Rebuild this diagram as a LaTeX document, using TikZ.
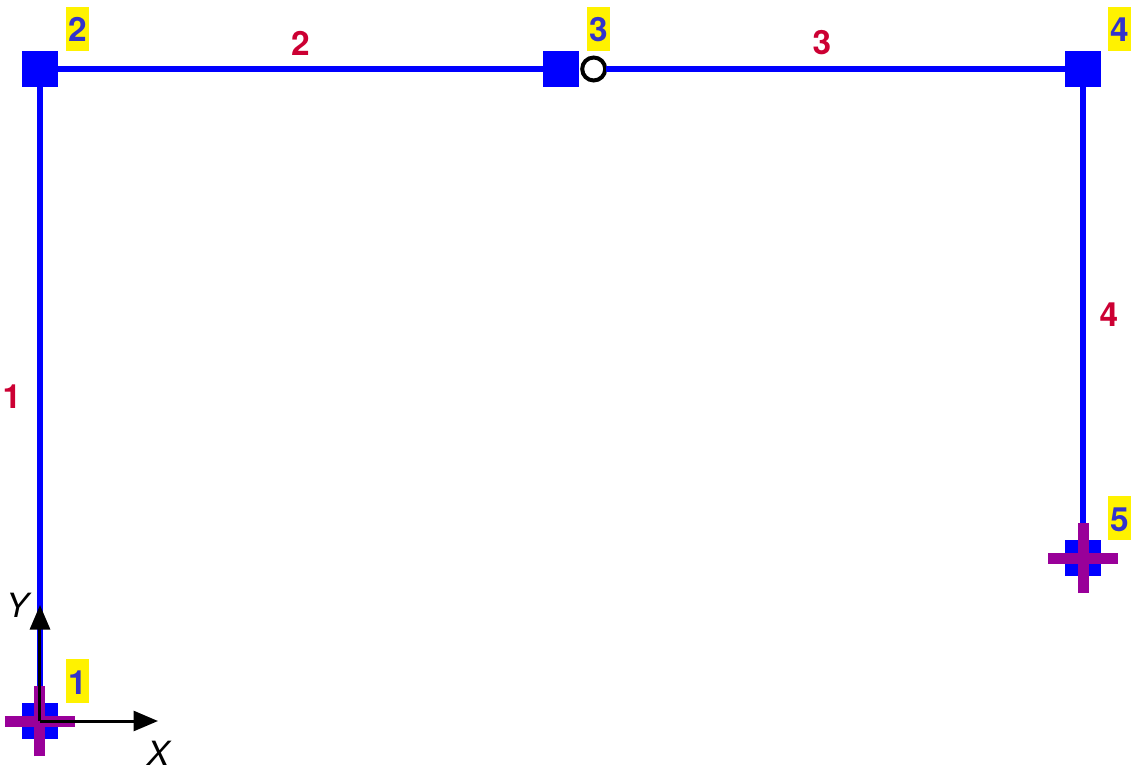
\documentclass[tikz,border=0pt]{standalone}
\usepackage{fontspec}
\setmainfont{TeX Gyre Heros}
\usepackage{xcolor}
\usetikzlibrary{calc,positioning,arrows.meta}
\definecolor{framelinecol}{rgb}{0,0,1}
\definecolor{supportcol}{rgb}{0.6,0,0.6}
\definecolor{jointtextcol}{rgb}{0.2,0.2,0.8}
\definecolor{membertextcol}{rgb}{0.8,0,0.2}
\tikzset{
    >={Triangle[length=0.245cm,width=0.2cm]},
    font={\fontsize{9.5pt}{12}\selectfont},
    joint/.style={
        rectangle,
        fill=framelinecol,
        minimum size=0.36cm,
        inner sep=0pt,
        outer sep=0pt
    },
    hinge/.style={
        circle,
        draw=black,
        fill=white,
        line width=0.04cm,
        minimum size=0.23cm,
        inner sep=0pt,
        outer sep=0.012cm
    },
    frameline/.style={draw=framelinecol, line width=0.055cm},
    supportbar/.style={draw=supportcol, line width=0.11cm},
    axisline/.style={draw=black, line width=0.03cm, ->},
    jointlabel/.style={
        rectangle,
        fill=yellow,
        text=jointtextcol,
        font={\fontsize{9.5pt}{12}\selectfont\bfseries},
        minimum width=0.23cm,
        text height=0.35cm,
        text depth=0.09cm,
        inner sep=0pt,
        outer sep=0pt
    },
    memberlabel/.style={
        text=membertextcol,
        font={\fontsize{9.5pt}{12}\selectfont\bfseries},
        inner sep=0pt
    },
    axislabel/.style={
        font={\fontsize{9.5pt}{12}\selectfont\itshape},
        inner sep=0pt
    },
}
\newcommand{\supportcross}[1]{%
    \draw[supportbar] ([xshift=-0.35cm]#1.center) -- ([xshift=0.35cm]#1.center);
    \draw[supportbar] ([yshift=-0.35cm]#1.center) -- ([yshift=0.35cm]#1.center);
}
\begin{document}
\begin{tikzpicture}
    \useasboundingbox (0,0) rectangle (11.37,7.73);

    \node(jointa)[joint] at (0.40,0.52) {};
    \node(jointb)[joint] at (0.40,7.04) {};
    \node(jointc)[joint] at (5.61,7.04) {};
    \node(jointd)[joint] at (10.83,7.04) {};
    \node(jointe)[joint] at (10.83,2.15) {};
    \node(pin)[hinge, right=0.02cm of jointc] {};

    \draw[frameline] (jointa) -- (jointb);
    \draw[frameline] (jointb) -- (jointc);
    \draw[frameline] (pin) -- (jointd);
    \draw[frameline] (jointd) -- (jointe);

    \supportcross{jointa}
    \supportcross{jointe}

    \node(labela)[jointlabel, above right=0cm and 0.08cm of jointa]{1};
    \node(labelb)[jointlabel, above right=0cm and 0.08cm of jointb]{2};
    \node(labelc)[jointlabel, above right=0cm and 0.08cm of jointc]{3};
    \node(labeld)[jointlabel, above right=0cm and 0.07cm of jointd]{4};
    \node(labele)[jointlabel, above right=0cm and 0.07cm of jointe]{5};

    \node(membera)[memberlabel, left=0.18cm, yshift=-0.015cm] at ($(jointa)!.5!(jointb)$) {1};
    \node(memberb)[memberlabel, above=0.13cm] at ($(jointb)!.5!(jointc)$) {2};
    \node(memberc)[memberlabel, above=0.13cm] at ($(jointc)!.5!(jointd)$) {3};
    \node(memberd)[memberlabel, right=0.16cm, yshift=-0.015cm] at ($(jointd)!.5!(jointe)$) {4};

    % global axes
    \coordinate(xend) at (1.58,0.52);
    \coordinate(yend) at (0.40,1.68);
    \draw[axisline] (jointa.center) -- (xend);
    \draw[axisline] (jointa.center) -- (yend);
    \node(xlabel)[axislabel, below=0.19cm of xend]{X};
    \node(ylabel)[axislabel, left=0.11cm of yend]{Y};
\end{tikzpicture}
\end{document}
